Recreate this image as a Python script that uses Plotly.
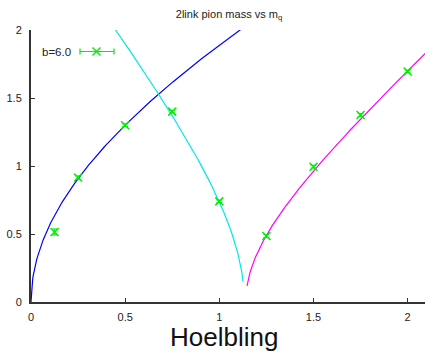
import numpy as np
import plotly.graph_objects as go

# ---- data ----
mq = [0.125, 0.25, 0.5, 0.75, 1.0, 1.25, 1.5, 1.75, 2.0]
mpi = [0.515, 0.915, 1.30, 1.40, 0.74, 0.485, 0.995, 1.375, 1.695]
mpi_err = [0.022, 0.012, 0.010, 0.010, 0.010, 0.010, 0.010, 0.010, 0.010]

# fit curves: m_pi^2 = A*d + B*d^2
blue_fit = dict(x0=0.0, A=3.2, B=0.366, xmin=0.0, xmax=1.2)
cyan_fit = dict(x0=1.132, A=3.69, B=3.18, xmin=0.40, xmax=1.126)
mag_fit = dict(x0=1.14, A=2.01, B=1.57, xmin=1.147, xmax=2.15)

xticks = [0, 0.5, 1, 1.5, 2]
xticklabels = ["0", "0.5", "1", "1.5", "2"]
yticks = [0, 0.5, 1, 1.5, 2]
yticklabels = ["0", "0.5", "1", "1.5", "2"]

title_text = "2link pion mass vs m<sub>q</sub>"
xlabel_text = "Hoelbling"
legend_text = "b=6.0"

XMAX = 2.092
FONT = "Liberation Sans, Arial, sans-serif"


def fit_curve(p, sign):
    x = np.linspace(p["xmin"], p["xmax"], 400)
    d = sign * (x - p["x0"])
    d = np.clip(d, 0, None)
    y = np.sqrt(p["A"] * d + p["B"] * d ** 2)
    return x, y


fig = go.Figure()
for p, sign, col in [(blue_fit, 1, "#0000ff"), (cyan_fit, -1, "#00e8e8"), (mag_fit, 1, "#ff00ff")]:
    cx, cy = fit_curve(p, sign)
    fig.add_trace(go.Scatter(x=cx, y=cy, mode="lines", line=dict(color=col, width=1.2),
                             showlegend=False, hoverinfo="skip"))

fig.add_trace(go.Scatter(
    x=mq, y=mpi, mode="markers",
    marker=dict(symbol="x-thin", size=8, color="#00ee00", line=dict(color="#00ee00", width=1.5)),
    error_y=dict(type="data", array=mpi_err, color="#00ee00", thickness=1, width=3),
    showlegend=False, cliponaxis=False))

# manual legend key (gnuplot style: text then error-bar sample)
lx0, lx1, ly = (80 - 31) / 394, (114 - 31) / 394, 1 - (51.5 - 30) / 272
cap = 3 / 272
lm = (96.5 - 31) / 394
mx, my = 4 / 394, 4 / 272
shapes = [
    dict(type="line", xref="paper", yref="paper", x0=lx0, x1=lx1, y0=ly, y1=ly, line=dict(color="#00ee00", width=1.2)),
    dict(type="line", xref="paper", yref="paper", x0=lx0, x1=lx0, y0=ly - cap, y1=ly + cap, line=dict(color="#00ee00", width=1.2)),
    dict(type="line", xref="paper", yref="paper", x0=lx1, x1=lx1, y0=ly - cap, y1=ly + cap, line=dict(color="#00ee00", width=1.2)),
    dict(type="line", xref="paper", yref="paper", x0=lm - mx, x1=lm + mx, y0=ly - my, y1=ly + my, line=dict(color="#00ee00", width=1.5)),
    dict(type="line", xref="paper", yref="paper", x0=lm - mx, x1=lm + mx, y0=ly + my, y1=ly - my, line=dict(color="#00ee00", width=1.5)),
]

fig.update_layout(
    width=425, height=351,
    margin=dict(l=31, r=0, t=30, b=49),
    paper_bgcolor="white", plot_bgcolor="white",
    font=dict(family=FONT, size=11, color="#222"),
    showlegend=False,
    shapes=shapes,
    title=dict(text=title_text, x=229 / 425, xanchor="center", y=1 - 14 / 351, yanchor="middle",
               font=dict(size=11, color="#222")),
    xaxis=dict(range=[0, XMAX], tickvals=xticks, ticktext=xticklabels, showgrid=False, zeroline=False,
               showline=True, linecolor="#333", linewidth=2, ticks="inside", ticklen=4, tickcolor="#333",
               ticklabelstandoff=4),
    yaxis=dict(range=[0, 2], tickvals=yticks, ticktext=yticklabels, showgrid=False, zeroline=False,
               showline=True, linecolor="#333", linewidth=2, ticks="inside", ticklen=4, tickcolor="#333",
               ticklabelstandoff=5),
    xaxis2=dict(range=[0, XMAX], overlaying="x", side="top", anchor="y", tickvals=xticks,
                showticklabels=False, showgrid=False, zeroline=False, showline=True,
                linecolor="#222", linewidth=1, ticks="inside", ticklen=4, tickcolor="#333"),
    yaxis2=dict(range=[0, 2], overlaying="y", side="right", anchor="x", tickvals=yticks,
                showticklabels=False, showgrid=False, zeroline=False, showline=False,
                ticks="inside", ticklen=4, tickcolor="#333"),
    annotations=[
        dict(text=xlabel_text, xref="paper", yref="paper", x=(223.5 - 31) / 394, y=-(337 - 302) / 272,
             xanchor="center", yanchor="middle", showarrow=False, font=dict(size=26, color="#111")),
        dict(text=legend_text, xref="paper", yref="paper", x=(73 - 31) / 394, y=ly,
             xanchor="right", yanchor="middle", showarrow=False, font=dict(size=11.5, color="#222")),
    ],
)

fig.write_html("out.html")
